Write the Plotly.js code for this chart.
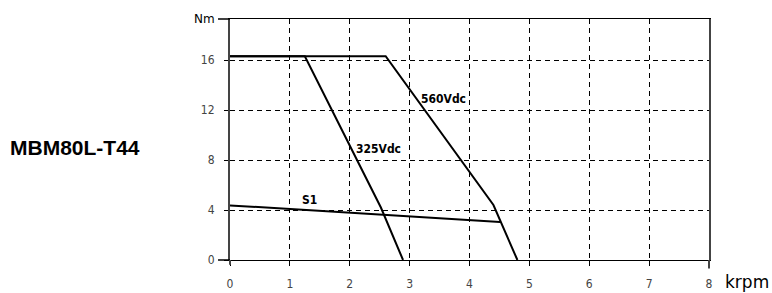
<!DOCTYPE html>
<html><head><meta charset="utf-8">
<script src="https://cdn.plot.ly/plotly-3.0.1.min.js"></script>
<style>html,body{margin:0;padding:0;background:#fff}#c{width:772px;height:293px}</style>
</head><body><div id="c"></div>
<script>
// Data (speed in krpm, torque in Nm)
const v560_x = [0, 2.6, 4.4, 4.8];
const v560_y = [16.3, 16.3, 4.4, 0];
const v325_x = [0, 1.25, 2.52, 2.89];
const v325_y = [16.3, 16.3, 4.2, 0];
const s1_x = [0, 4.51];
const s1_y = [4.37, 3.04];
const xTicks = [0, 1, 2, 3, 4, 5, 6, 7, 8];
const yTicks = [0, 4, 8, 12, 16];
const curveLabels = [
  {text: '560Vdc', x: 3.57, y: 12.9},
  {text: '325Vdc', x: 2.48, y: 8.86},
  {text: 'S1', x: 1.33, y: 4.8}
];
const modelName = 'MBM80L-T44';

const lineStyle = {color: '#000', width: 2};
const traces = [
  {x: v560_x, y: v560_y, mode: 'lines', line: lineStyle, hoverinfo: 'skip'},
  {x: v325_x, y: v325_y, mode: 'lines', line: lineStyle, hoverinfo: 'skip'},
  {x: s1_x, y: s1_y, mode: 'lines', line: lineStyle, hoverinfo: 'skip'}
];

const annotations = curveLabels.map(l => ({
  x: l.x, y: l.y, xref: 'x', yref: 'y', text: '<b>' + l.text + '</b>', showarrow: false,
  font: {family: 'DejaVu Sans Condensed, DejaVu Sans', size: 12, color: '#000'},
  xanchor: 'center', yanchor: 'middle'
}));
annotations.push({xref: 'paper', yref: 'paper', x: -0.3235, y: 0.465, text: '<b>' + modelName + '</b>',
  showarrow: false, xanchor: 'center', yanchor: 'middle',
  font: {family: 'Liberation Sans, Arial', size: 21, color: '#000'}});
annotations.push({xref: 'paper', yref: 'paper', x: 1.03, y: -0.09, text: 'krpm',
  showarrow: false, xanchor: 'left', yanchor: 'middle',
  font: {family: 'DejaVu Sans, Open Sans', size: 17, color: '#000'}});
annotations.push({xref: 'paper', yref: 'paper', x: -0.027, y: 1.0, text: 'Nm',
  showarrow: false, xanchor: 'right', yanchor: 'middle',
  font: {family: 'DejaVu Sans, Open Sans', size: 12, color: '#000'}});

const tickFont = {family: 'DejaVu Sans Condensed, DejaVu Sans', size: 12, color: '#444'};

const layout = {
  width: 772, height: 293,
  margin: {l: 230, r: 63, t: 19, b: 33},
  paper_bgcolor: '#fff', plot_bgcolor: '#fff',
  showlegend: false,
  xaxis: {
    range: [0, 8], tickvals: xTicks, ticktext: xTicks.map(String),
    showgrid: true, gridcolor: '#000', griddash: '5px,4px', gridwidth: 1,
    zeroline: false, showline: true, linecolor: '#000', linewidth: 1, mirror: true,
    ticks: 'outside', ticklen: 5, tickcolor: '#000', ticklabelstandoff: 8,
    tickfont: tickFont
  },
  yaxis: {
    range: [0, 19.28], tickvals: yTicks, ticktext: yTicks.map(String),
    showgrid: true, gridcolor: '#000', griddash: '5px,4px', gridwidth: 1,
    zeroline: false, showline: true, linecolor: '#444', linewidth: 2, mirror: true,
    ticks: 'outside', ticklen: 4, tickcolor: '#000', ticklabelstandoff: 7,
    tickfont: tickFont
  },
  shapes: [
    {type: 'line', xref: 'paper', yref: 'paper', x0: -0.025, x1: 0, y0: 0, y1: 0, line: {color: '#000', width: 1.5}},
    {type: 'line', xref: 'paper', yref: 'paper', x0: -0.025, x1: 0, y0: 1, y1: 1, line: {color: '#000', width: 1.5}},
    {type: 'line', xref: 'paper', yref: 'paper', x0: 0, x1: 0, y0: -0.02, y1: 0, line: {color: '#444', width: 2}},
    {type: 'line', xref: 'paper', yref: 'paper', x0: 1, x1: 1, y0: -0.035, y1: 0, line: {color: '#444', width: 2}}
  ],
  annotations: annotations
};

Plotly.newPlot('c', traces, layout, {staticPlot: true, displayModeBar: false});
</script>
</body></html>
